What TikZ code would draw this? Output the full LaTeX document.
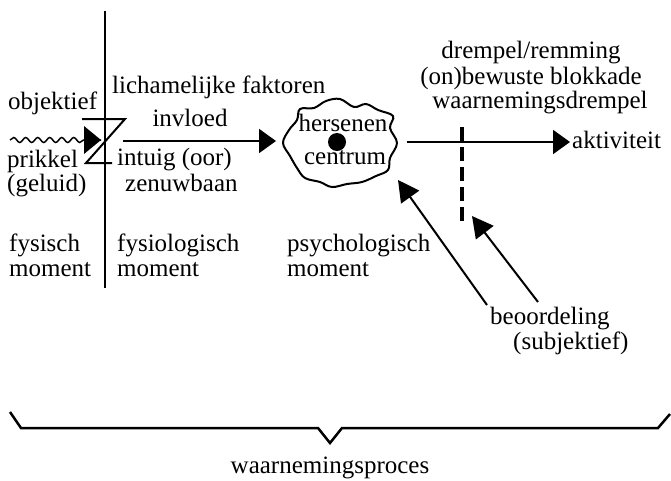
\documentclass[tikz,border=0pt]{standalone}
\usepackage{fontspec}
\setmainfont{Liberation Serif}
\usetikzlibrary{arrows.meta,decorations.pathmorphing}
\begin{document}
\begin{tikzpicture}[x=1pt,y=-1pt,
  txt/.style={font=\fontsize{25}{26}\selectfont, inner sep=0pt, text height=17.5pt, text depth=5.5pt},
  ln/.style={line width=2pt},
  arr/.style={line width=2pt, -{Triangle[length=17pt,width=24pt]}},
  darr/.style={line width=2pt, -{Triangle[length=21pt,width=22pt]}},
  brace/.style={line width=2.5pt, line join=miter}
]
\useasboundingbox (0,0) rectangle (671,480);

% left texts
\node[txt, anchor=west] (obj) at (8,103) {objektief};
\node[txt, anchor=west] (prik) at (7,161) {prikkel};
\node[txt, anchor=west] (gel) at (7,185) {(geluid)};
\node[txt, anchor=west] (lich) at (112,87) {lichamelijke faktoren};
\node[txt] (inv) at (190,120) {invloed};
\node[txt, anchor=west] (int) at (117,159) {intuig (oor)};
\node[txt, anchor=west] (zen) at (125,185) {zenuwbaan};

% vertical separator
\coordinate (vtop) at (105,11);
\coordinate (vbot) at (105,288);
\draw[line width=2.5pt] (vtop) -- (vbot);

% wavy stimulus with arrowhead
\coordinate (w0) at (10,140);
\coordinate (w1) at (101,140);
\draw[line width=1.5pt, decorate, decoration={snake, amplitude=2.5pt, segment length=12pt, post length=17pt}] (w0) -- (w1);
\fill (84,126) -- (101,140) -- (84,154) -- cycle;

% Z shape
\coordinate (z1) at (82,119);
\coordinate (z2) at (125,119);
\coordinate (z3) at (86,163);
\coordinate (z4) at (112,163);
\draw[ln, line join=miter] (z1) -- (z2) -- (z3) -- (z4);

% brain cloud
\node[txt] (hers) at (343,125) {hersenen};
\node[txt] (cent) at (345,158) {centrum};
\node[circle, fill, inner sep=0pt, minimum size=18pt] (dot) at (337,142) {};
\draw[ln] plot[smooth cycle, tension=0.6] coordinates {
 (397,143) (390,128) (393,116) (378,110) (366,104) (354,107) (340,99)
 (326,101) (314,108) (300,109) (297,120) (289,130) (283,143) (290,156)
 (297,168) (305,178) (320,182) (332,187) (347,184) (362,182) (376,176)
 (388,170) (390,158)};

% main arrows
\coordinate (a1s) at (123,141);
\coordinate (a1e) at (276,141);
\draw[arr] (a1s) -- (a1e);
\coordinate (a2s) at (407,142);
\coordinate (a2e) at (570,142);
\draw[arr] (a2s) -- (a2e);
\node[txt, anchor=west] (akt) at (572,142) {aktiviteit};

% threshold labels
\node[txt] (drem) at (531,52) {drempel/remming};
\node[txt] (onb) at (531,78) {(on)bewuste blokkade};
\node[txt] (waar) at (540,102) {waarnemingsdrempel};
\coordinate (dtop) at (462,127);
\coordinate (dbot) at (462,222);
\draw[line width=4pt, dash pattern=on 14pt off 6pt] (dtop) -- (dbot);

% moments
\node[txt, anchor=west] (fys) at (9,245) {fysisch};
\node[txt, anchor=west] (mom1) at (9,270) {moment};
\node[txt, anchor=west] (fysl) at (117,245) {fysiologisch};
\node[txt, anchor=west] (mom2) at (117,270) {moment};
\node[txt, anchor=west] (psy) at (287,245) {psychologisch};
\node[txt, anchor=west] (mom3) at (287,270) {moment};

% judgement
\node[txt, anchor=west] (beo) at (490,318) {beoordeling};
\node[txt, anchor=west] (subj) at (513,343) {(subjektief)};
\coordinate (b1s) at (487,305);
\coordinate (b1e) at (398,180);
\draw[darr] (b1s) -- (b1e);
\coordinate (b2s) at (538,302);
\coordinate (b2e) at (472,216);
\draw[darr] (b2s) -- (b2e);

% brace
\draw[brace] (10,412) -- (21,428) -- (318,428) -- (330,443) -- (342,428) -- (658,428) -- (670,414);
\node[txt] (proc) at (330,467) {waarnemingsproces};
\end{tikzpicture}
\end{document}
